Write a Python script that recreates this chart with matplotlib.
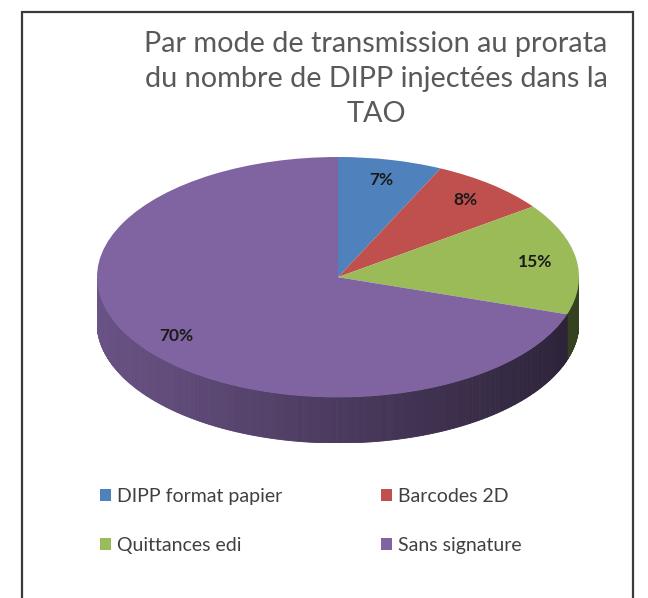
import numpy as np
import matplotlib
matplotlib.use("Agg")
import matplotlib.pyplot as plt
from matplotlib.patches import Rectangle
from matplotlib.colors import to_rgb

labels = ['DIPP format papier', 'Barcodes 2D', 'Quittances edi', 'Sans signature']
shares = [7, 8, 15, 70]
colors = ['#4F81BD', '#C0504D', '#9BBB59', '#8064A2']
title = "Par mode de transmission au prorata\ndu nombre de DIPP injectées dans la\nTAO"

plt.rcParams['font.family'] = ['Lato', 'DejaVu Sans']

W, H = 648, 598
fig = plt.figure(figsize=(W / 100, H / 100), dpi=100)

# chart frame (bottom edge is cut off in the original)
fig.patches.append(Rectangle((22 / W, -0.05), (633 - 22) / W, 1.05 - 12 / H,
                             transform=fig.transFigure, fill=False,
                             edgecolor='#3a3a3a', linewidth=1.6))

fig.text(376 / W, 1 - 31 / H, title, ha='center', va='top', fontsize=20.8,
         color='#595959', linespacing=1.42)

# pie axes: ellipse box 97..579 px wide, top 157..397 px, side depth to 443 px
depth = 0.38
x0, x1 = 97, 579
y_top, y_bot = 157, 443
ax = fig.add_axes([x0 / W, 1 - y_bot / H, (x1 - x0) / W, (y_bot - y_top) / H])

wedges, texts, autotexts = ax.pie(shares, colors=colors, startangle=90,
                                  counterclock=False, autopct='%d%%',
                                  pctdistance=0.83,
                                  wedgeprops=dict(linewidth=0, zorder=3),
                                  textprops=dict(fontsize=12.5, fontweight='bold',
                                                 color='#1a1a1a'))
for t in autotexts:
    t.set_zorder(5)

# side of the pie (front half only), shaded left to right
fracs = np.array(shares) / sum(shares)
start = 90.0
for frac, col in zip(fracs, colors):
    end = start - frac * 360
    base = np.array(to_rgb(col))
    angs = np.linspace(start, end, max(int(frac * 720), 4))
    for a, b in zip(angs[:-1], angs[1:]):
        ta, tb = np.radians(a), np.radians(b)
        if np.sin(ta) > 0.001 and np.sin(tb) > 0.001:
            continue
        xa, xb = np.cos(ta), np.cos(tb)
        ya, yb = min(np.sin(ta), 0), min(np.sin(tb), 0)
        xm = (xa + xb) / 2
        k = 0.82 - 0.24 * (xm + 1)
        c = np.clip(base * k, 0, 1)
        ax.fill([xa, xb, xb, xa], [ya, yb, yb - depth, ya - depth],
                color=c, linewidth=0.6, edgecolor=c, zorder=2)
    start = end

ax.set_aspect('auto')
ax.set_xlim(-1, 1)
ax.set_ylim(-1 - depth, 1)
ax.axis('off')

order = [0, 2, 1, 3]
fig.legend([wedges[i] for i in order], [labels[i] for i in order],
           ncol=2, loc='upper left', bbox_to_anchor=(90 / W, 1 - 478 / H),
           frameon=False, fontsize=14, handlelength=0.6, handleheight=0.6,
           handletextpad=0.3, columnspacing=5.05, labelspacing=1.65,
           borderpad=0, labelcolor='#404040')

fig.savefig('out.png', dpi=100)
